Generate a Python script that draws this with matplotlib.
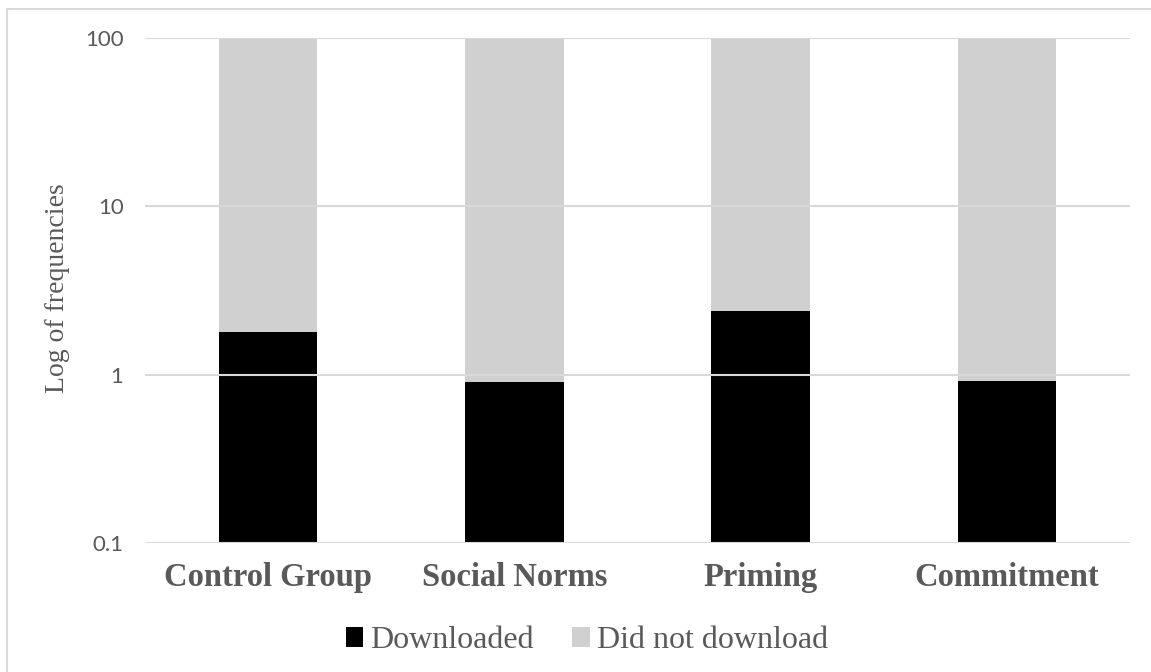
import matplotlib.pyplot as plt
import numpy as np
from matplotlib.patches import Rectangle

# data
groups = ["Control Group", "Social Norms", "Priming", "Commitment"]
downloaded = [1.8, 0.91, 2.4, 0.92]
total = [100, 100, 100, 100]
not_downloaded = [t - d for t, d in zip(total, downloaded)]
yticks = [0.1, 1, 10, 100]
ytick_labels = ["0.1", "1", "10", "100"]

W, H = 1151, 672
fig = plt.figure(figsize=(W / 100, H / 100), dpi=100)
ax = fig.add_axes([145 / W, 1 - 543 / H, (1130 - 145) / W, (543 - 38) / H])

x = np.arange(len(groups))
ax.bar(x, downloaded, width=0.4, color="black", label="Downloaded", zorder=2)
ax.bar(x, not_downloaded, width=0.4, bottom=downloaded, color="#d0d0d0",
       label="Did not download", zorder=2)

ax.set_yscale("log")
ax.set_ylim(0.1, 100)
ax.set_xlim(-0.5, len(groups) - 0.5)
ax.set_yticks(yticks)
ax.set_yticklabels(ytick_labels, family="Lato", fontsize=16, color="#595959")
ax.minorticks_off()
ax.tick_params(axis="y", length=0, pad=15.5)
ax.tick_params(axis="x", length=0, pad=13.5)
ax.set_xticks(x)
ax.set_xticklabels(groups, family="Liberation Serif", fontweight="bold",
                   fontsize=23.5, color="#595959")

# gridlines sit on top of the bars, like the original
for t in yticks:
    ax.axhline(t, color="#d9d9d9", lw=1.5, zorder=3)
for s in ax.spines.values():
    s.set_visible(False)

fig.text(58 / W, 1 - 288 / H, "Log of frequencies", rotation=90,
         ha="center", va="center", family="Liberation Serif", fontsize=20,
         color="#595959")

leg = fig.legend(loc="center", bbox_to_anchor=(587 / W, 1 - 641 / H), ncol=2,
                 frameon=False, prop={"family": "Liberation Serif", "size": 23},
                 handlelength=0.56, handleheight=0.56, handletextpad=0.22,
                 columnspacing=1.2, borderpad=0, borderaxespad=0)
for t in leg.get_texts():
    t.set_color("#595959")

# chart area border (cropped on right/bottom)
fig.patches.append(Rectangle((7 / W, -0.1), 1.2, 1 - 9 / H + 0.1,
                             transform=fig.transFigure, fill=False,
                             edgecolor="#d9d9d9", lw=1.5))

fig.savefig("out.png", dpi=100)
